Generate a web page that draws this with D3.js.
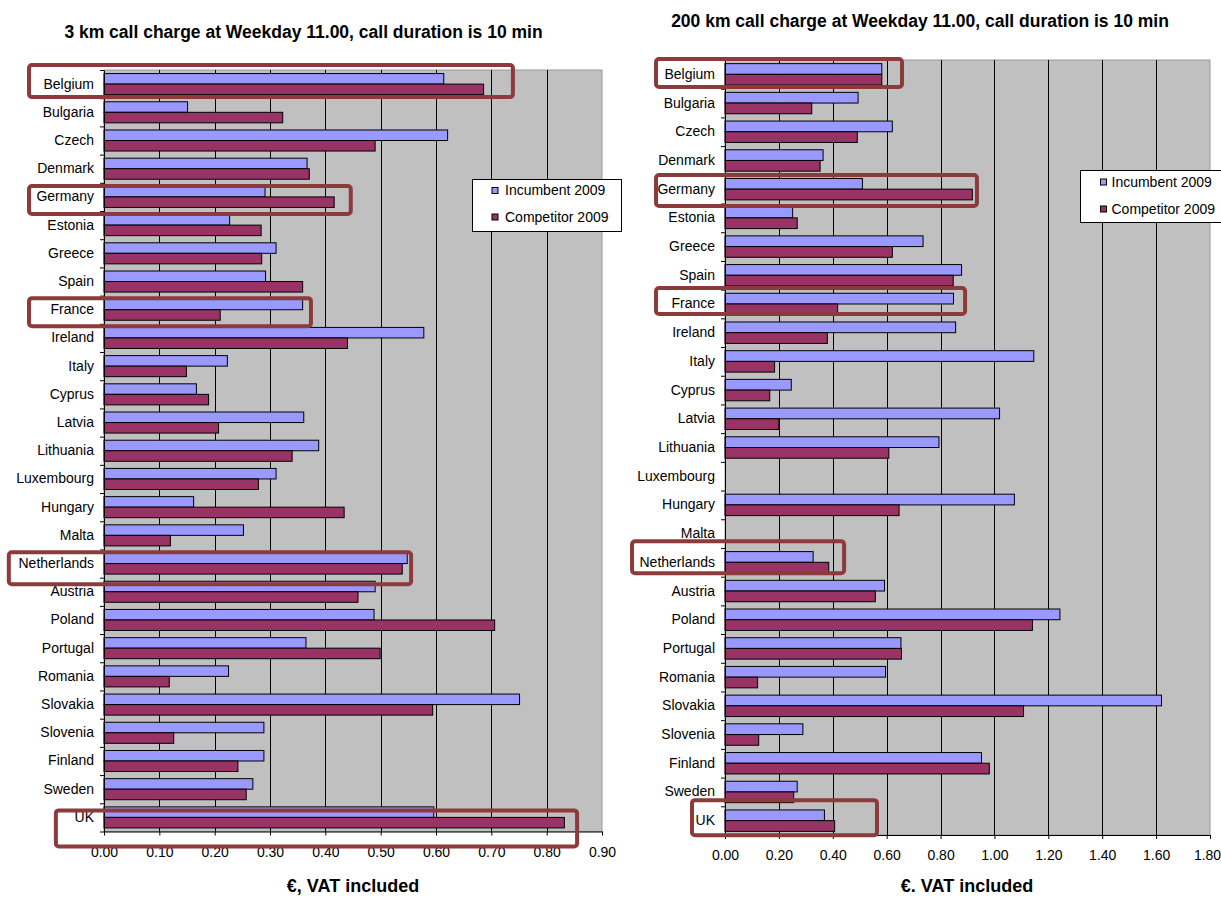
<!DOCTYPE html>
<html><head><meta charset="utf-8">
<script src="https://cdn.jsdelivr.net/npm/d3@7"></script>
<style>
body{margin:0;background:#fff;}
svg{display:block;font-family:"Liberation Sans",Arial,sans-serif;}
</style>
</head><body>
<svg id="c" width="1221" height="897"></svg>
<script>
// ---------- DATA ----------
const countries = ["Belgium","Bulgaria","Czech","Denmark","Germany","Estonia","Greece","Spain","France","Ireland","Italy","Cyprus","Latvia","Lithuania","Luxembourg","Hungary","Malta","Netherlands","Austria","Poland","Portugal","Romania","Slovakia","Slovenia","Finland","Sweden","UK"];
const seriesNames = ["Incumbent 2009","Competitor 2009"];

const incumbent3km  = [0.614,0.151,0.621,0.367,0.291,0.227,0.311,0.292,0.359,0.578,0.223,0.167,0.361,0.388,0.311,0.162,0.252,0.548,0.490,0.488,0.365,0.225,0.751,0.289,0.289,0.269,0.596];
const competitor3km = [0.686,0.323,0.490,0.371,0.416,0.284,0.285,0.359,0.210,0.440,0.149,0.189,0.207,0.340,0.279,0.434,0.120,0.539,0.459,0.706,0.499,0.118,0.594,0.126,0.242,0.257,0.832];

const incumbent200km  = [0.582,0.494,0.621,0.364,0.510,0.251,0.735,0.878,0.848,0.856,1.146,0.246,1.019,0.794,null,1.074,null,0.327,0.592,1.243,0.653,0.596,1.620,0.289,0.952,0.268,0.369];
const competitor200km = [0.582,0.322,0.491,0.353,0.918,0.268,0.621,0.847,0.418,0.380,0.184,0.166,0.200,0.608,null,0.646,null,0.385,0.558,1.141,0.655,0.121,1.108,0.125,0.981,0.255,0.407];

const ticks3km   = [0,0.1,0.2,0.3,0.4,0.5,0.6,0.7,0.8,0.9];
const ticks200km = [0,0.2,0.4,0.6,0.8,1.0,1.2,1.4,1.6,1.8];

const title3km   = "3 km call charge at Weekday 11.00, call duration is 10 min";
const title200km = "200 km call charge at Weekday 11.00, call duration is 10 min";
const xTitle3km   = "€, VAT included";
const xTitle200km = "€. VAT included";

// highlighted countries (annotation boxes)
const highlight3km   = ["Belgium","Germany","France","Netherlands","UK"];
const highlight200km = ["Belgium","Germany","France","Netherlands","UK"];

// ---------- LAYOUT / STYLE ----------
const colors = ["#9999ff","#993366"];
const boxColor = "#8c3a3a";

const layout3km = {
  left:104, right:602, top:70, bottom:831.5,
  titleX:303.5, titleY:38, xTitleX:353, xTitleY:892, tickPad:12, lastDx:0,
  legend:{x:472.5,y:179.5,w:149,h:52,sq:492,tx:505,b1:195,b2:221.5},
  boxes:[
    {from:-0.1355,to:0.739,dy:-3,half:16},
    {from:-0.1355,to:0.446,dy:3,half:14},
    {from:-0.1355,to:0.374,dy:2.4,half:14},
    {from:-0.172,to:0.555,dy:4.7,half:16},
    {from:-0.087,to:0.855,dy:11,half:18}
  ]
};
const layout200km = {
  left:725, right:1210, top:60, bottom:835,
  titleX:920, titleY:27, xTitleX:967, xTitleY:892, tickPad:11, lastDx:-3,
  legend:{x:1080.5,y:170.5,w:150,h:52,sq:1100.5,tx:1111.5,b1:186.5,b2:213.5},
  boxes:[
    {from:-0.256,to:0.657,dy:-1.4,half:14},
    {from:-0.256,to:0.935,dy:1.4,half:15.5},
    {from:-0.256,to:0.891,dy:-3,half:13},
    {from:-0.345,to:0.442,dy:-5,half:16},
    {from:-0.1225,to:0.564,dy:-3,half:17.5}
  ]
};

const svg = d3.select("#c");

function drawChart(inc, comp, ticks, title, xTitle, highlights, L) {
  const g = svg.append("g");
  const x = d3.scaleLinear().domain([ticks[0], ticks[ticks.length-1]]).range([L.left, L.right]);
  const y = d3.scaleBand().domain(countries).range([L.top, L.bottom]).padding(0);
  const sub = d3.scaleBand().domain([0,1]).range([0, y.bandwidth()]).paddingInner(0).paddingOuter(0.34);
  const idx = d3.scaleLinear().domain([0, countries.length]).range([L.top, L.bottom]);

  // plot area
  g.append("rect").attr("x", L.left).attr("y", L.top)
    .attr("width", L.right - L.left).attr("height", L.bottom - L.top)
    .attr("fill", "#c0c0c0").attr("stroke", "#9a9a9a").attr("stroke-width", 1);

  // gridlines
  g.append("g").selectAll("line").data(ticks.slice(1, -1)).join("line")
    .attr("x1", d => Math.round(x(d)) + 0.5).attr("x2", d => Math.round(x(d)) + 0.5)
    .attr("y1", L.top).attr("y2", L.bottom)
    .attr("stroke", "#000").attr("stroke-width", 1);

  // bars
  [inc, comp].forEach((vals, si) => {
    g.append("g").selectAll("rect")
      .data(countries.map((c, i) => ({c, v: vals[i]})).filter(d => d.v != null))
      .join("rect")
      .attr("x", x(0)).attr("y", d => y(d.c) + sub(si))
      .attr("width", d => x(d.v) - x(0)).attr("height", sub.bandwidth())
      .attr("fill", colors[si]).attr("stroke", "#000").attr("stroke-width", 1);
  });

  // x axis
  const xa = g.append("g").attr("transform", `translate(0,${L.bottom})`)
    .call(d3.axisBottom(x).tickValues(ticks).tickFormat(d3.format(".2f"))
      .tickSizeInner(4).tickSizeOuter(0).tickPadding(L.tickPad));
  xa.attr("font-size", 14).attr("font-family", null);
  xa.selectAll("path,line").attr("stroke", "#000");
  xa.selectAll("text").attr("fill", "#000");
  xa.selectAll(".tick:last-of-type text").attr("dx", L.lastDx);

  // y axis boundary ticks
  const yt = g.append("g").attr("transform", `translate(${L.left},0)`)
    .call(d3.axisLeft(idx).tickValues(d3.range(0, countries.length + 1)).tickFormat("").tickSize(4).tickSizeOuter(0));
  yt.selectAll("path,line").attr("stroke", "#000");

  // y axis labels
  const ya = g.append("g").attr("transform", `translate(${L.left},0)`)
    .call(d3.axisLeft(y).tickSize(0).tickPadding(10));
  ya.attr("font-size", 14).attr("font-family", null);
  ya.select("path").remove();
  ya.selectAll("text").attr("fill", "#000");

  // titles
  g.append("text").attr("x", L.titleX).attr("y", L.titleY).attr("text-anchor", "middle")
    .attr("font-size", 17.5).attr("font-weight", "bold").attr("fill", "#000").text(title);
  g.append("text").attr("x", L.xTitleX).attr("y", L.xTitleY).attr("text-anchor", "middle")
    .attr("font-size", 18).attr("font-weight", "bold").attr("fill", "#000").text(xTitle);

  // legend
  const lg = g.append("g");
  lg.append("rect").attr("x", L.legend.x).attr("y", L.legend.y).attr("width", L.legend.w).attr("height", L.legend.h)
    .attr("fill", "#fff").attr("stroke", "#000").attr("stroke-width", 1);
  [L.legend.b1, L.legend.b2].forEach((b, i) => {
    lg.append("rect").attr("x", L.legend.sq).attr("y", b - 7.5).attr("width", 6).attr("height", 6)
      .attr("fill", colors[i]).attr("stroke", "#000").attr("stroke-width", 1);
    lg.append("text").attr("x", L.legend.tx).attr("y", b).attr("font-size", 14).attr("fill", "#000").text(seriesNames[i]);
  });

  // highlight boxes
  g.append("g").selectAll("rect").data(highlights.map((c, i) => ({c, b: L.boxes[i]}))).join("rect")
    .attr("x", d => x(d.b.from)).attr("width", d => x(d.b.to) - x(d.b.from))
    .attr("y", d => y(d.c) + y.bandwidth() / 2 + d.b.dy - d.b.half)
    .attr("height", d => 2 * d.b.half)
    .attr("rx", 3).attr("fill", "none").attr("stroke", boxColor).attr("stroke-width", 4);
}

drawChart(incumbent3km, competitor3km, ticks3km, title3km, xTitle3km, highlight3km, layout3km);
drawChart(incumbent200km, competitor200km, ticks200km, title200km, xTitle200km, highlight200km, layout200km);
</script>
</body></html>
